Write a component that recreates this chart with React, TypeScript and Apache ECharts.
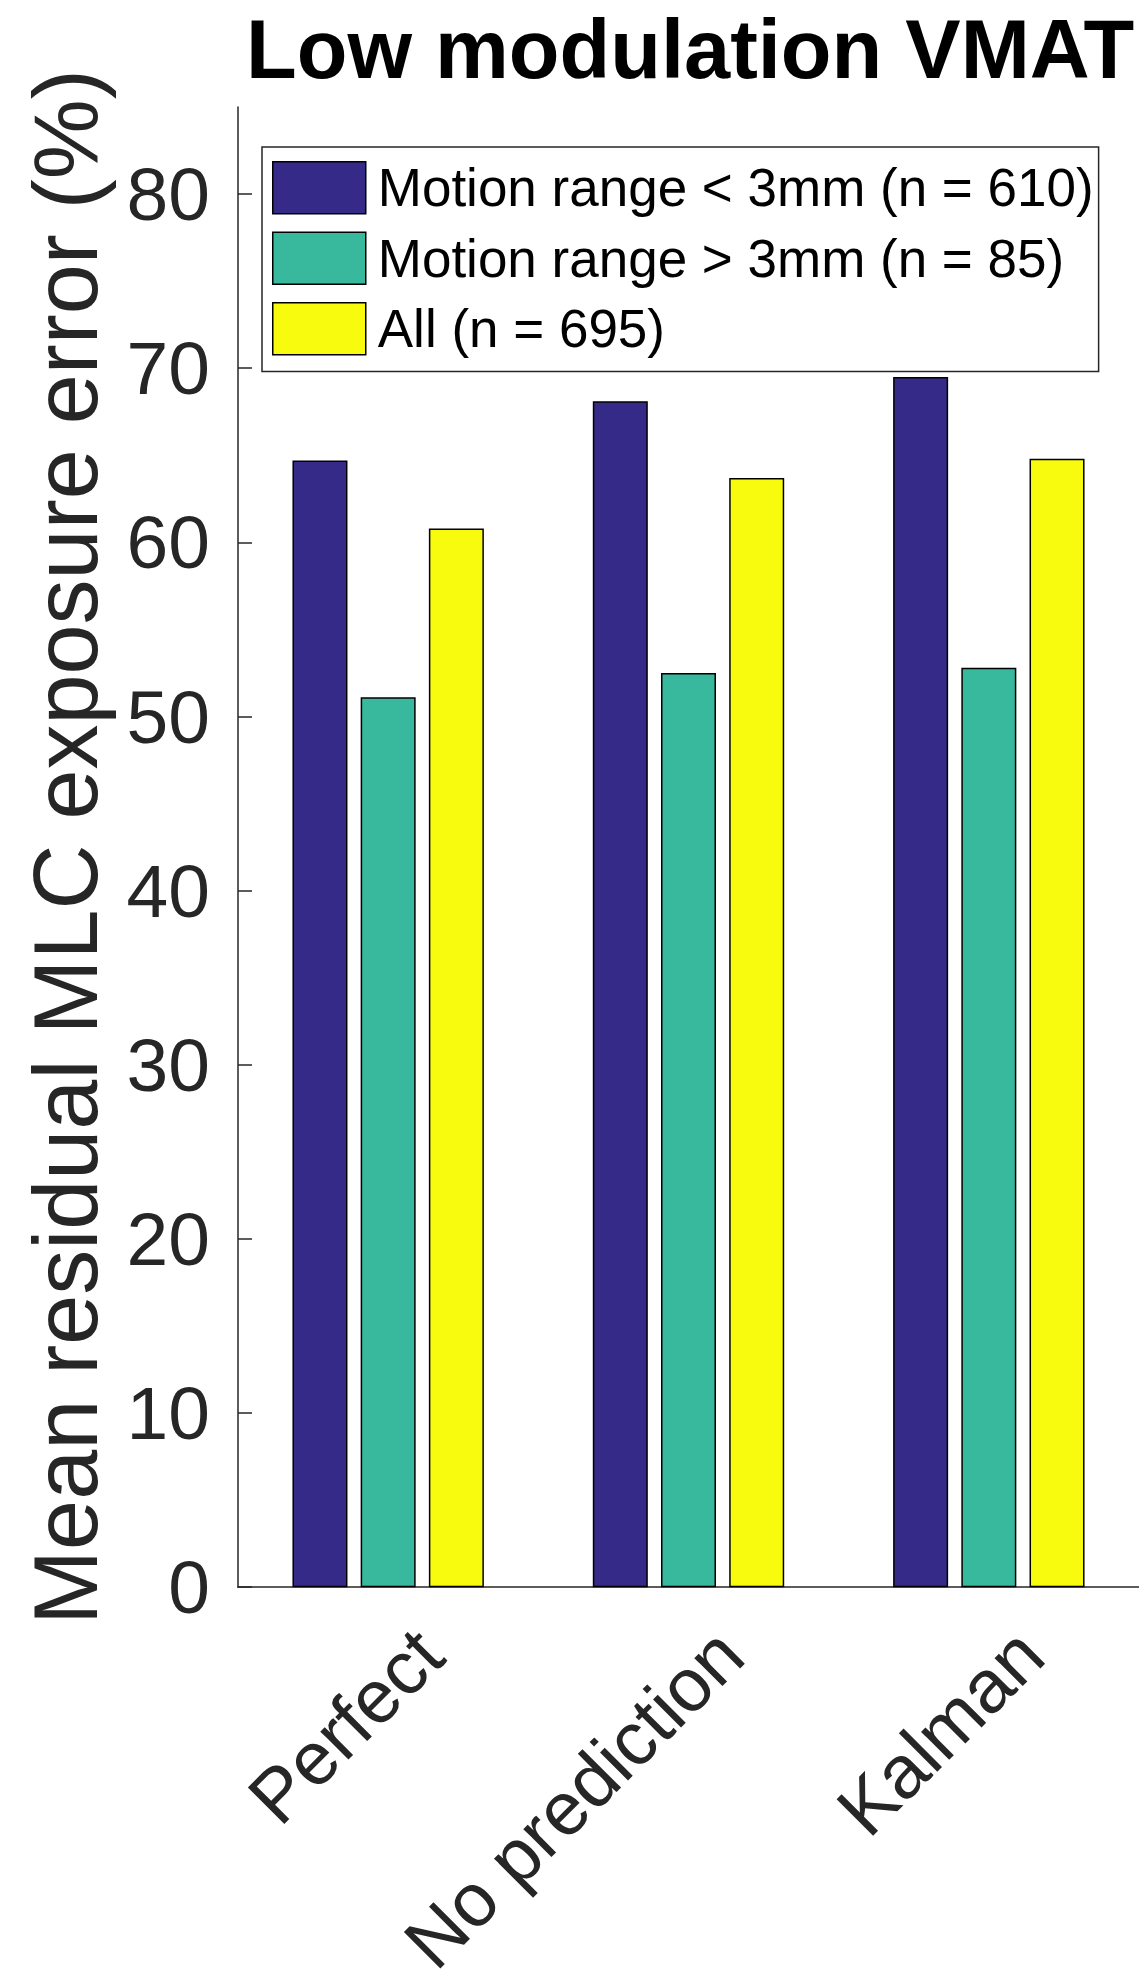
import React, { useEffect, useRef } from "react";
import * as echarts from "echarts";

const titleText = "Low modulation VMAT";
const yAxisName = "Mean residual MLC exposure error (%)";
const categories = ["Perfect", "No prediction", "Kalman"];
const seriesNames = [
  "Motion range < 3mm (n = 610)",
  "Motion range > 3mm (n = 85)",
  "All (n = 695)",
];
const lowMotion = [64.7, 68.1, 69.5];
const highMotion = [51.1, 52.5, 52.8];
const allPlans = [60.8, 63.7, 64.8];
const yTicks = [0, 10, 20, 30, 40, 50, 60, 70, 80];
const yMax = 85;

const colors = ["#352A87", "#38B89C", "#F9FB0E"];
const FONT = "'Liberation Sans', Arial, Helvetica, sans-serif";
const AXIS = "#262626";

export default function App() {
  const ref = useRef<HTMLDivElement>(null);
  useEffect(() => {
    if (!ref.current) return;
    const chart = echarts.init(ref.current, undefined, { renderer: "svg" });
    const values = [lowMotion, highMotion, allPlans];
    chart.setOption({
      animation: false,
      backgroundColor: "#fff",
      title: {
        text: titleText,
        left: 246,
        top: 8,
        padding: 0,
        textStyle: { fontFamily: FONT, fontSize: 83, fontWeight: "bold", color: "#000" },
      },
      legend: {
        orient: "vertical",
        left: 262,
        top: 147,
        padding: [14, 5, 16, 10],
        itemWidth: 93,
        itemHeight: 52,
        itemGap: 17,
        borderColor: AXIS,
        borderWidth: 1.5,
        backgroundColor: "#fff",
        icon: "rect",
        itemStyle: { borderColor: "#000", borderWidth: 1.5 },
        textStyle: {
          fontFamily: FONT,
          fontSize: 53,
          lineHeight: 52,
          color: "#000",
          padding: [0, 0, 0, 7],
        },
        data: seriesNames,
      },
      grid: { left: 238, top: 107, width: 903, height: 1485, containLabel: false },
      xAxis: {
        type: "category",
        data: categories,
        axisLine: { show: true, lineStyle: { color: AXIS, width: 1.5 } },
        axisTick: { show: false },
        axisLabel: {
          rotate: 45,
          align: "right",
          verticalAlign: "top",
          margin: 43,
          padding: [0, -21, 0, 0],
          fontFamily: FONT,
          fontSize: 75,
          color: AXIS,
          interval: 0,
        },
        splitLine: { show: false },
      },
      yAxis: {
        type: "value",
        min: 0,
        max: yMax,
        interval: 10,
        name: yAxisName,
        nameLocation: "middle",
        nameGap: 127,
        nameTextStyle: { fontFamily: FONT, fontSize: 90, color: AXIS },
        axisLine: { show: true, lineStyle: { color: AXIS, width: 1.5 } },
        axisTick: {
          show: true,
          inside: true,
          length: 14,
          lineStyle: { color: AXIS, width: 1.5 },
          customValues: yTicks,
        },
        axisLabel: {
          margin: 28,
          fontFamily: FONT,
          fontSize: 75,
          color: AXIS,
          customValues: yTicks,
        },
        splitLine: { show: false },
      },
      series: seriesNames.map((name, i) => ({
        name,
        type: "bar",
        data: values[i],
        barWidth: 55,
        barGap: "24%",
        itemStyle: { color: colors[i], borderColor: "#000", borderWidth: 1.5 },
      })),
    });
    return () => chart.dispose();
  }, []);
  return (
    <div
      ref={ref}
      style={{ position: "absolute", left: 0, top: 0, width: 1139, height: 1983 }}
    />
  );
}
